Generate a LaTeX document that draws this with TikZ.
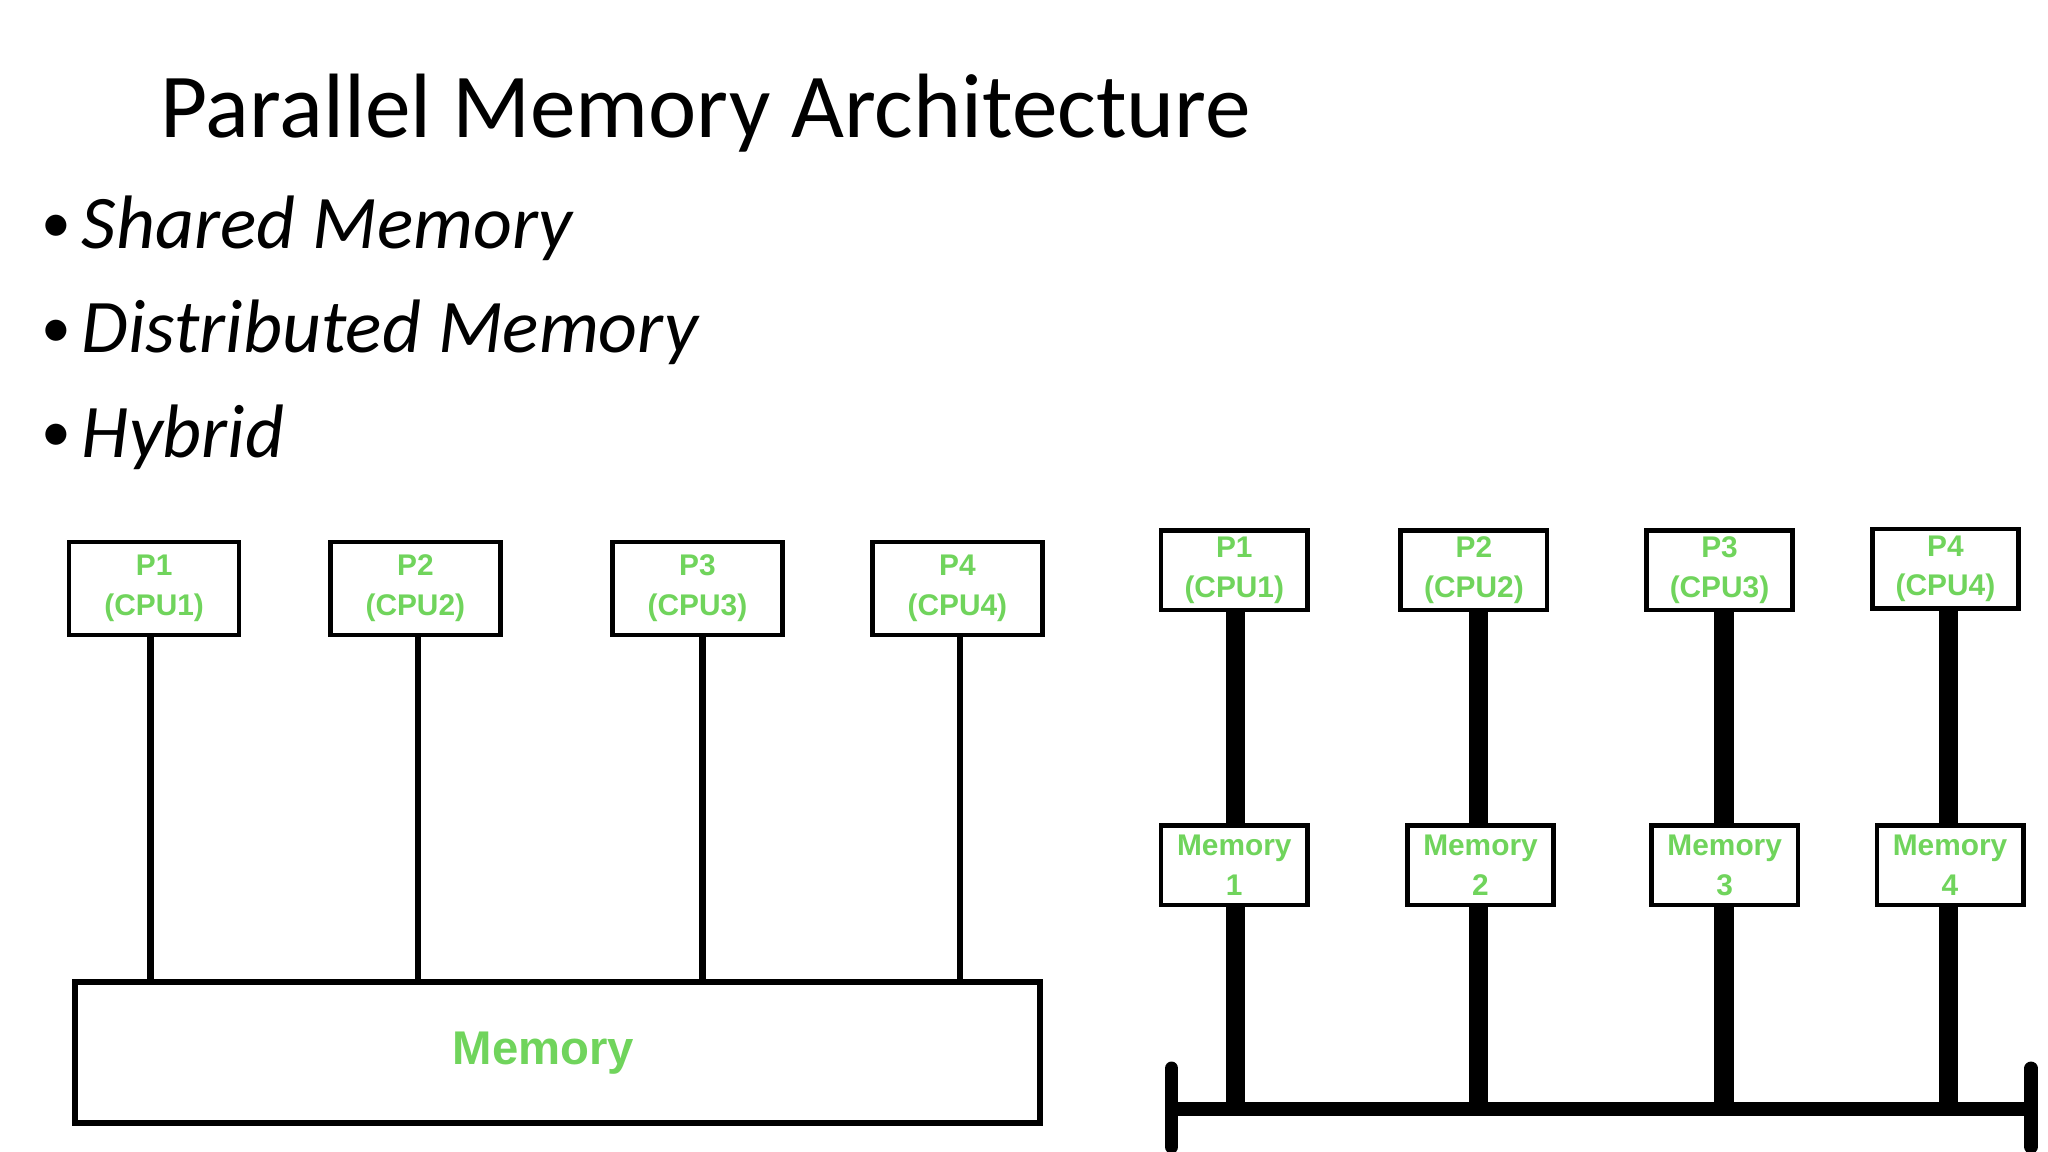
\documentclass[tikz,border=0pt]{standalone}
\usepackage{fontspec}
\setmainfont{Carlito}
\newfontfamily\arialf{Liberation Sans}
\definecolor{gr}{RGB}{112,212,92}
\begin{document}
\begin{tikzpicture}[x=0.01cm,y=-0.01cm,
  pbox/.style={draw,line width=1pt,minimum width=#1,font=\arialf\bfseries\fontsize{6.5}{8.6}\selectfont,text=gr,align=center,inner sep=0pt},
  thin/.style={line width=1.5pt},
  thick/.style={line width=4.2pt},
  bul/.style={anchor=base west,font=\fontsize{16.5}{19}\selectfont}]
\useasboundingbox (0,0) rectangle (1568,882);
\fill[white] (0,0) rectangle (1568,882);
\node[anchor=base west,font=\fontsize{19.9}{22}\selectfont,inner sep=0pt] (title) at (122,105) {Parallel Memory Architecture};
\foreach \n/\y/\t in {b1/190/Shared Memory,b2/270/Distributed Memory,b3/350/Hybrid}{
  \node[anchor=base west,font=\fontsize{13}{15}\selectfont,inner sep=0pt] (\n d) at (31,\y-4) {\textbullet};
  \node[bul,inner sep=0pt] (\n) at (62,\y) {\textit{\t}};
}
% left
\foreach \i/\x in {1/118,2/318,3/534,4/733}{
  \node[pbox=1.30cm,minimum height=0.71cm] (p\i) at (\x,450.5) {P\i\\(CPU\i)};
}
\node[draw,line width=1.3pt,minimum width=7.38cm,minimum height=1.08cm,inner sep=0pt] (mem) at (427,806) {};
\node[font=\arialf\bfseries\fontsize{10.3}{12}\selectfont,text=gr] (memt) at (416,806) {Memory};
\foreach \i/\lx in {1/115,2/320,3/538,4/735}{
  \draw[thin] (\lx,0 |- p\i.south) -- (\lx,0 |- mem.north);
}
% right
\foreach \i/\x/\y/\mx/\lx in {1/945/436.5/945/946,2/1128.5/436.5/1133.5/1132,3/1316.5/436.5/1320.5/1320,4/1489.5/435.5/1493/1492}{
  \node[pbox=1.12cm,minimum height=0.61cm] (q\i) at (\x,\y) {P\i\\(CPU\i)};
  \node[pbox=1.12cm,minimum height=0.61cm] (m\i) at (\mx,662.5) {Memory\\\i};
  \coordinate (bt\i) at (\lx,849);
  \draw[thick] (\lx,0 |- q\i.south) -- (\lx,0 |- m\i.north);
  \draw[thick] (\lx,0 |- m\i.south) -- (bt\i);
}
\coordinate (bl) at (897,849); \coordinate (br) at (1555,849);
\draw[line width=3pt] (bl) -- (br);
\draw[line width=3pt,line cap=round] (897,818) -- (897,878);
\draw[line width=3pt,line cap=round] (1555,818) -- (1555,878);
\end{tikzpicture}
\end{document}
